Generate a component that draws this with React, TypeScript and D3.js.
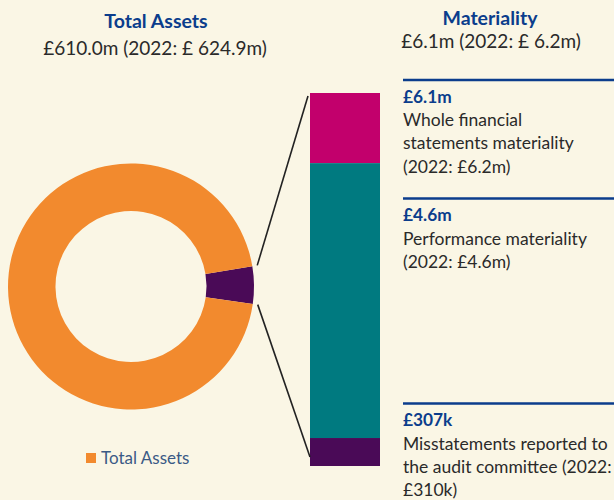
import React, { useEffect, useRef } from "react";
import * as d3 from "d3";

// ---- data ----
const donutLabels = ["Materiality", "Total Assets"];
const donutValues = [4.9, 95.1]; // share of ring (highlight slice + remainder)
const donutColors = ["#4A0A57", "#F28A2E"];

const barLabels = ["Whole financial statements materiality", "Performance materiality", "Misstatements reported"];
const barValues = [18.8, 73.7, 7.5]; // visual share of stacked bar (top to bottom)
const barColors = ["#C2006C", "#007A80", "#4A0A57"];

const leftTitle = "Total Assets";
const leftSubtitle = "£610.0m (2022: £ 624.9m)";
const rightTitle = "Materiality";
const rightSubtitle = "£6.1m (2022: £ 6.2m)";

const blockHeads = ["£6.1m", "£4.6m", "£307k"];
const blockLines = [
  ["Whole financial", "statements materiality", "(2022: £6.2m)"],
  ["Performance materiality", "(2022: £4.6m)"],
  ["Misstatements reported to", "the audit committee (2022:", "£310k)"],
];
const legendLabel = "Total Assets";

const BG = "#FAF6E5";
const BLUE = "#0B3D8C";
const TEXT = "#2A2A2A";
const FONT = "Lato, 'Open Sans', sans-serif";

export default function App() {
  const ref = useRef<SVGSVGElement>(null);

  useEffect(() => {
    const svg = d3.select(ref.current);
    svg.selectAll("*").remove();

    svg.append("rect").attr("width", 614).attr("height", 500).attr("fill", BG);

    // donut
    const cx = 131, cy = 286.5, rOuter = 123, rInner = 75.5;
    const deg = Math.PI / 180;
    const pie = d3.pie<number>().sort(null).startAngle(80.5 * deg).endAngle(80.5 * deg + 2 * Math.PI);
    const arcs = pie(donutValues);
    const arc = d3.arc<d3.PieArcDatum<number>>().innerRadius(rInner).outerRadius(rOuter);
    const g = svg.append("g").attr("transform", `translate(${cx},${cy})`);
    g.selectAll("path")
      .data(arcs)
      .join("path")
      .attr("d", arc)
      .attr("fill", (_d, i) => donutColors[i]);

    // stacked bar
    const barX = 310, barW = 70, barTop = 93, barBottom = 466;
    const total = d3.sum(barValues);
    const y = d3.scaleLinear().domain([0, total]).range([barTop, barBottom]);
    const cum = d3.cumsum(barValues);
    svg.append("g")
      .selectAll("rect")
      .data(barValues)
      .join("rect")
      .attr("x", barX)
      .attr("width", barW)
      .attr("y", (_d, i) => y(i === 0 ? 0 : cum[i - 1]))
      .attr("height", (d) => y(d) - y(0))
      .attr("fill", (_d, i) => barColors[i]);

    // connector lines from highlight slice to bar
    const hl = arcs[0];
    const gap = 5;
    const p1 = [cx + Math.sin(hl.startAngle) * (rOuter + gap), cy - Math.cos(hl.startAngle) * (rOuter + gap)];
    const p2 = [cx + Math.sin(hl.endAngle) * (rOuter + gap), cy - Math.cos(hl.endAngle) * (rOuter + gap)];
    svg.append("line").attr("x1", p1[0]).attr("y1", p1[1]).attr("x2", barX - 2).attr("y2", barTop + 3)
      .attr("stroke", "#222").attr("stroke-width", 1.6);
    svg.append("line").attr("x1", p2[0]).attr("y1", p2[1]).attr("x2", barX).attr("y2", barBottom - 9)
      .attr("stroke", "#222").attr("stroke-width", 1.6);

    // titles
    svg.append("text").attr("x", 156).attr("y", 28).attr("text-anchor", "middle")
      .attr("font-family", FONT).attr("font-weight", 700).attr("font-size", 19.5).attr("fill", BLUE).text(leftTitle);
    svg.append("text").attr("x", 155).attr("y", 55).attr("text-anchor", "middle")
      .attr("font-family", FONT).attr("font-size", 19).attr("fill", TEXT).text(leftSubtitle);
    svg.append("text").attr("x", 490).attr("y", 25).attr("text-anchor", "middle")
      .attr("font-family", FONT).attr("font-weight", 700).attr("font-size", 19.5).attr("fill", BLUE).text(rightTitle);
    svg.append("text").attr("x", 491).attr("y", 48).attr("text-anchor", "middle")
      .attr("font-family", FONT).attr("font-size", 19).attr("fill", TEXT).text(rightSubtitle);

    // right text blocks
    const ruleY = [80, 198.5, 403.5];
    ruleY.forEach((ry, i) => {
      svg.append("line").attr("x1", 403).attr("x2", 614).attr("y1", ry).attr("y2", ry)
        .attr("stroke", BLUE).attr("stroke-width", 2.5);
      svg.append("text").attr("x", 403).attr("y", ry + 22.5)
        .attr("font-family", FONT).attr("font-weight", 700).attr("font-size", 17.3).attr("fill", BLUE)
        .text(blockHeads[i]);
      blockLines[i].forEach((ln, j) => {
        svg.append("text").attr("x", 403).attr("y", ry + 46 + j * 23.3)
          .attr("font-family", FONT).attr("font-size", 17.5).attr("fill", TEXT).text(ln);
      });
    });

    // legend
    svg.append("rect").attr("x", 86).attr("y", 453).attr("width", 10).attr("height", 10).attr("fill", donutColors[1]);
    svg.append("text").attr("x", 101).attr("y", 463.5)
      .attr("font-family", FONT).attr("font-size", 17).attr("fill", "#3A5A86").text(legendLabel);
  }, []);

  return (
    <svg ref={ref} width={614} height={500} style={{ position: "absolute", left: 0, top: 0, display: "block" }} />
  );
}
